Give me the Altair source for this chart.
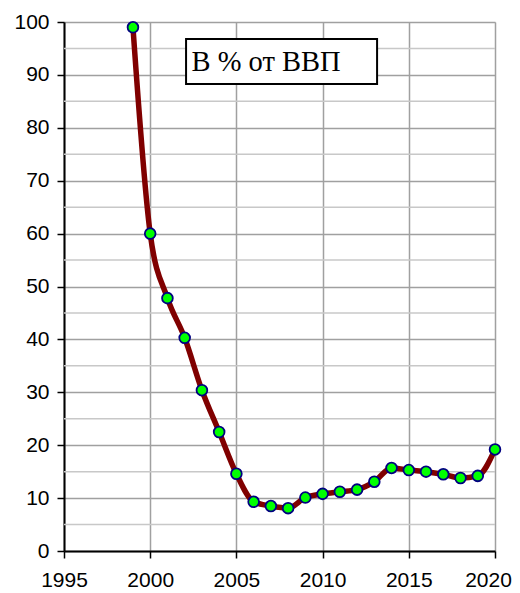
import altair as alt
import pandas as pd

years = [1999, 2000, 2001, 2002, 2003, 2004, 2005, 2006, 2007, 2008, 2009,
         2010, 2011, 2012, 2013, 2014, 2015, 2016, 2017, 2018, 2019, 2020]
values = [99.0, 60.0, 47.8, 40.3, 30.4, 22.5, 14.6, 9.3, 8.5, 8.1, 10.1,
          10.8, 11.2, 11.6, 13.1, 15.7, 15.3, 15.0, 14.5, 13.8, 14.2, 19.2]
x_ticks = [1995, 2000, 2005, 2010, 2015, 2020]
y_ticks = [0, 10, 20, 30, 40, 50, 60, 70, 80, 90, 100]
y_minor = [5, 15, 25, 35, 45, 55, 65, 75, 85, 95]
label_text = "В % от ВВП"
box_x = [2002.08, 2013.16]
box_y = [88.3, 96.8]

df = pd.DataFrame({"year": years, "value": values})
minor_df = pd.DataFrame({"v": y_minor})
box_df = pd.DataFrame({"x1": [box_x[0]], "x2": [box_x[1]], "y1": [box_y[0]], "y2": [box_y[1]],
                       "tx": [box_x[0] + 0.32], "ty": [(box_y[0] + box_y[1]) / 2], "t": [label_text]})

xs = alt.Scale(domain=[1995, 2020], nice=False, zero=False)
ys = alt.Scale(domain=[0, 100], nice=False)

x_axis = alt.Axis(values=x_ticks, format="d", grid=True, gridColor="#a0a0a0", gridWidth=1.5,
                  domainColor="black", domainWidth=2, tickColor="black", tickWidth=1.5,
                  tickSize=7, labelFontSize=21, labelColor="black", labelPadding=11,
                  labelFlush=False,
                  labelOffset=alt.condition("datum.value == 2020", alt.value(-7), alt.value(0)),
                  title=None)
y_axis = alt.Axis(values=y_ticks, grid=True, gridColor="#a0a0a0", gridWidth=1.5,
                  domainColor="black", domainWidth=2, tickColor="black", tickWidth=1.5,
                  tickSize=7, labelFontSize=21, labelColor="black", labelPadding=8,
                  labelFlush=False, title=None)

minor = alt.Chart(minor_df).mark_rule(color="#c8c8c8", strokeWidth=1.5).encode(
    y=alt.Y("v:Q", scale=ys, axis=y_axis))

line = alt.Chart(df).mark_line(interpolate="monotone", color="#800000", strokeWidth=5.5).encode(
    x=alt.X("year:Q", scale=xs, axis=x_axis),
    y=alt.Y("value:Q", scale=ys, axis=y_axis))

pts = alt.Chart(df).mark_point(filled=True, fill="#00ff00", stroke="#000080", strokeWidth=1.8,
                               size=115, opacity=1).encode(
    x=alt.X("year:Q", scale=xs),
    y=alt.Y("value:Q", scale=ys))

box = alt.Chart(box_df).mark_rect(fill="white", stroke="black", strokeWidth=2).encode(
    x=alt.X("x1:Q", scale=xs), x2="x2:Q",
    y=alt.Y("y1:Q", scale=ys), y2="y2:Q")

txt = alt.Chart(box_df).mark_text(align="left", baseline="middle", font="Liberation Serif",
                                  fontSize=28.5, color="black", dy=1).encode(
    x=alt.X("tx:Q", scale=xs), y=alt.Y("ty:Q", scale=ys), text="t:N")

chart = alt.layer(minor, line, pts, box, txt).properties(
    width=431, height=529,
    autosize=alt.AutoSizeParams(type="none"),
    padding={"left": 56, "top": 14, "right": 17, "bottom": 42},
).configure_view(strokeWidth=0).configure(font="Liberation Sans").configure_axis(
    labelFont="Liberation Sans")

chart.save("out.html", embed_options={"renderer": "svg", "actions": False})
